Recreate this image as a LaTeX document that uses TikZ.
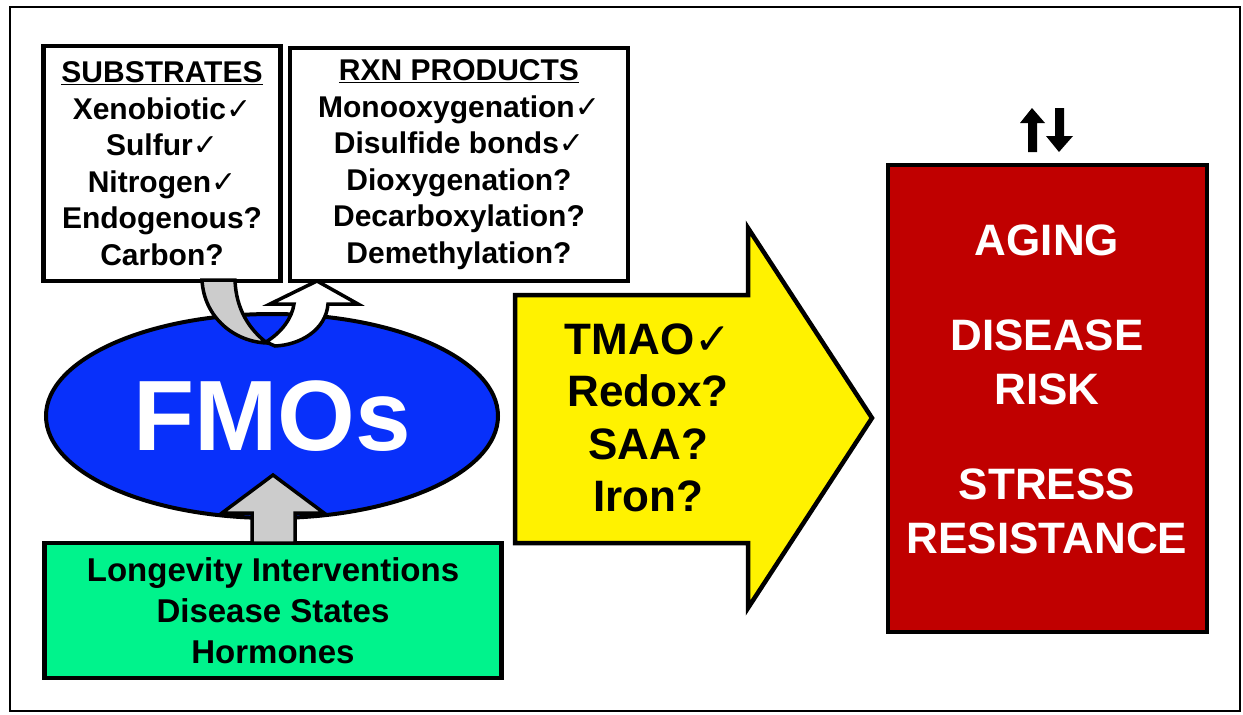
\documentclass[tikz,border=0pt]{standalone}
\usepackage{fontspec}
\setmainfont{Liberation Sans}
\newfontfamily\chkfont{DejaVu Sans}
\usepackage{tikz}
\usetikzlibrary{shapes.geometric}
\definecolor{fmoblue}{RGB}{8,48,250}
\definecolor{mintgreen}{RGB}{0,243,140}
\definecolor{riskred}{RGB}{192,0,0}
\definecolor{arrowgray}{RGB}{204,204,204}
\newcommand{\chk}{{\chkfont\bfseries ✓}}
\tikzstyle{listbox}=[draw,line width=4.5pt,fill=white,align=center,font=\bfseries\fontsize{30}{36.5}\selectfont]
\tikzstyle{blockarrow}=[draw,line width=3.5pt,line join=miter]

\begin{document}
\begin{tikzpicture}[x=1pt,y=-1pt]
  \useasboundingbox (0,0) rectangle (1243,715);
  \draw[line width=2.5pt] (10,7) rectangle (1240,711);

  \node[ellipse,draw,line width=4pt,fill=fmoblue,minimum width=452,minimum height=204,
        text=white,font=\bfseries\fontsize{100}{100}\selectfont] (fmo) at (272,416) {FMOs};

  \node[listbox,minimum width=237,minimum height=235] (subs) at (162,163.5)
    {\underline{SUBSTRATES}\\ Xenobiotic\chk\\ Sulfur\chk\\ Nitrogen\chk\\ Endogenous?\\ Carbon?};
  \node[listbox,minimum width=338,minimum height=233] (prods) at (459,164.5)
    {\underline{RXN PRODUCTS}\\ Monooxygenation\chk\\ Disulfide bonds\chk\\ Dioxygenation?\\ Decarboxylation?\\ Demethylation?};
  \node[listbox,fill=mintgreen,minimum width=457,minimum height=135,
        font=\bfseries\fontsize{33}{41}\selectfont] (mods) at (273,610.5)
    {Longevity Interventions\\ Disease States\\ Hormones};

  % curved arrows in and out
  \draw[blockarrow,fill=white] (266,342) .. controls (282,332) and (292,318) .. (294,304) -- (270,304)
    -- (317,281) -- (358,304) -- (328,304) .. controls (326,330) and (300,345) .. (275,346) -- cycle;
  \draw[blockarrow,fill=arrowgray] (202,280) .. controls (204,318) and (235,342) .. (267,343)
    .. controls (250,330) and (236,310) .. (235,280) -- cycle;
  \draw[blockarrow,fill=arrowgray] (252,543) -- (252,513) -- (222,513) -- (273,475)
    -- (324,513) -- (295,513) -- (295,543) -- cycle;

  % big arrow
  \draw[blockarrow,line width=4.5pt,fill=yellow] (515,295) -- (748,295) -- (748,228) -- (872,418)
    -- (748,608) -- (748,543) -- (515,543) -- cycle;
  \node[align=center,font=\bfseries\fontsize{44}{52.5}\selectfont] (metab) at (648,418)
    {TMAO\chk\\ Redox?\\ SAA?\\ Iron?};

  \node[draw,line width=4.5pt,fill=riskred,minimum width=319,minimum height=467] (outcome) at (1047.5,398.5) {};
  \node[align=center,text=white,font=\bfseries\fontsize{44}{54}\selectfont] (risks) at (1047,389)
    {AGING\\[41pt] DISEASE\\ RISK\\[41pt] STRESS\\ RESISTANCE};

  % up and down
  \fill (1032,108) -- (1045,123) -- (1037,123) -- (1037,152) -- (1028,152) -- (1028,123) -- (1020,123) -- cycle;
  \fill (1055,108) -- (1064,108) -- (1064,136) -- (1073,136) -- (1059,152) -- (1046,136) -- (1055,136) -- cycle;
\end{tikzpicture}
\end{document}
